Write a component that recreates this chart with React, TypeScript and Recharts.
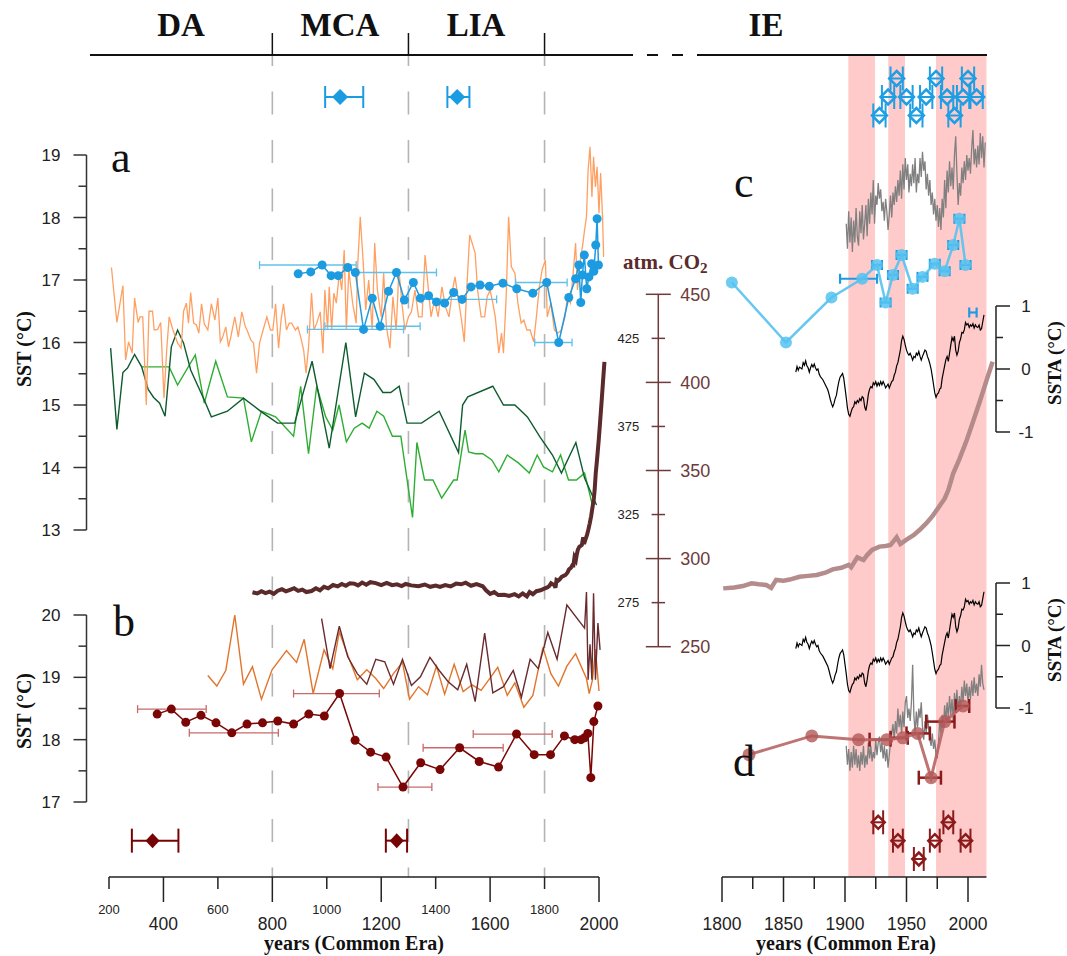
import React from 'react';
import { ComposedChart, Line, Scatter, XAxis, YAxis, ErrorBar, ReferenceLine, ReferenceArea } from 'recharts';

const W = 1067;
const H = 956;
const SANS = '"Liberation Sans", Arial, sans-serif';
const SERIF = '"Liberation Serif", "Times New Roman", serif';

// ---------------- data ----------------
const periodLabels = ['DA', 'MCA', 'LIA', 'IE'];
const periodBoundaries = [800, 1300, 1800];
const leftYearTicks = [200, 400, 600, 800, 1000, 1200, 1400, 1600, 1800, 2000];
const rightYearTicks = [1800, 1825, 1850, 1875, 1900, 1925, 1950, 1975, 2000];
const sstATicks = [13, 13.5, 14, 14.5, 15, 15.5, 16, 16.5, 17, 17.5, 18, 18.5, 19];
const sstBTicks = [17, 17.5, 18, 18.5, 19, 19.5, 20];
const co2Ticks = [250, 275, 300, 325, 350, 375, 400, 425, 450];
const sstaTicks = [-1, -0.5, 0, 0.5, 1];
const warmBands = [[1902.7, 1924.4], [1935.2, 1948.8], [1974, 2015]];

// panel a: light orange SST record
const orangeA = [
  [209, 17.2], [229, 16.32], [251, 16.91], [261, 15.72], [272, 16.01], [285, 15.83], [294, 16.71], [307, 16.32], [314, 16.41], [324, 16.41],
  [337, 15.0], [347, 16.5], [360, 16.5], [366, 16.2], [379, 16.21], [390, 16.32], [402, 15.11], [412, 15.88], [421, 16.41], [435, 16.2],
  [452, 15.99], [465, 15.91], [474, 16.5], [484, 16.63], [492, 16.31], [500, 16.8], [511, 16.31], [521, 16.28], [530, 16.15], [540, 16.62],
  [550, 16.3], [563, 16.2], [576, 16.62], [589, 16.36], [600, 16.71], [609, 16.01], [618, 16.09], [629, 16.25], [639, 15.93], [648, 16.1],
  [662, 16.41], [675, 16.09], [688, 16.49], [701, 16.25], [707, 16.2], [721, 16.04], [731, 15.99], [742, 15.51], [753, 15.99], [766, 16.2],
  [780, 16.41], [793, 16.2], [802, 16.2], [812, 16.62], [823, 15.91], [832, 16.36], [841, 16.62], [852, 16.2], [862, 16.31], [871, 16.31],
  [885, 16.2], [894, 16.25], [904, 16.09], [915, 15.88], [924, 15.51], [933, 15.93], [944, 16.79], [953, 16.2], [963, 16.31], [976, 16.49],
  [986, 15.83], [993, 16.84], [1003, 16.2], [1009, 16.89], [1018, 16.2], [1026, 16.79], [1035, 16.63], [1046, 17.11], [1055, 16.84], [1064, 17.48],
  [1072, 16.2], [1081, 17.16], [1095, 16.63], [1108, 16.31], [1114, 17.27], [1123, 18.01], [1134, 17.27], [1143, 16.52], [1154, 17.0], [1167, 16.2],
  [1176, 17.59], [1186, 16.84], [1200, 16.41], [1209, 17.11], [1219, 16.25], [1232, 15.91], [1243, 16.73], [1255, 16.2], [1265, 17.16], [1276, 16.63],
  [1287, 16.2], [1300, 16.41], [1311, 16.49], [1324, 16.84], [1337, 16.41], [1350, 16.41], [1361, 17.4], [1371, 16.95], [1383, 16.41], [1396, 16.68],
  [1409, 16.41], [1423, 16.89], [1436, 16.57], [1449, 16.41], [1462, 16.84], [1471, 17.05], [1482, 16.73], [1495, 16.36], [1505, 16.01], [1514, 16.84],
  [1525, 17.72], [1534, 17.59], [1545, 17.43], [1554, 16.84], [1567, 16.41], [1580, 16.41], [1589, 16.73], [1600, 16.84], [1610, 16.63], [1619, 16.41],
  [1632, 15.83], [1642, 16.15], [1649, 15.83], [1659, 16.73], [1668, 18.01], [1678, 17.21], [1691, 17.11], [1702, 16.63], [1714, 16.31], [1724, 16.36],
  [1735, 16.2], [1747, 16.2], [1760, 16.01], [1770, 16.41], [1781, 16.89], [1791, 17.16], [1803, 17.32], [1810, 16.41], [1823, 16.63], [1836, 16.2],
  [1849, 16.15], [1862, 16.2], [1875, 16.41], [1884, 16.73], [1895, 16.63], [1904, 17.05], [1914, 17.59], [1921, 16.84], [1930, 17.27], [1941, 17.59],
  [1947, 17.8], [1954, 18.01], [1960, 18.76], [1967, 19.13], [1974, 18.33], [1980, 18.97], [1987, 18.49], [1993, 18.81], [2000, 18.07], [2006, 18.71],
  [2013, 18.01], [2017, 17.37],
];

// panel a: dark green record
const darkGreenA = [
  [206, 15.91], [229, 14.61], [251, 15.52], [268, 15.59], [294, 15.81], [320, 15.61], [344, 15.25], [364, 15.12], [386, 15.03], [406, 14.82],
  [429, 15.93], [452, 16.2], [474, 15.99], [500, 15.56], [550, 15.08], [576, 14.81], [635, 14.9], [694, 15.11], [760, 14.89], [819, 14.71],
  [882, 14.71], [946, 15.7], [1009, 14.31], [1070, 16.0], [1106, 14.81], [1138, 15.51], [1173, 15.41], [1206, 15.2], [1235, 15.2], [1266, 15.3],
  [1295, 14.71], [1348, 14.71], [1413, 14.9], [1484, 14.24], [1499, 15.0], [1518, 15.13], [1610, 15.3], [1649, 15.0], [1691, 15.0], [1737, 14.81],
  [1783, 14.49], [1829, 14.2], [1862, 13.91], [1915, 14.4], [1947, 13.83], [1991, 13.4],
];

// panel a: light green record
const lightGreenA = [
  [320, 15.61], [421, 15.61], [452, 15.32], [517, 15.8], [550, 15.03], [592, 15.7], [635, 15.13], [694, 15.11], [723, 14.41], [760, 14.9],
  [812, 14.81], [878, 14.5], [904, 15.3], [933, 14.22], [963, 15.3], [996, 14.81], [1022, 14.6], [1045, 15.0], [1072, 14.41], [1101, 14.63],
  [1130, 14.71], [1156, 14.63], [1184, 14.9], [1209, 14.82], [1241, 14.5], [1272, 14.5], [1315, 13.2], [1331, 14.4], [1359, 13.8], [1390, 13.8],
  [1422, 13.51], [1466, 13.8], [1479, 13.8], [1495, 14.25], [1508, 14.6], [1521, 14.25], [1547, 14.22], [1573, 14.22], [1606, 14.12], [1632, 13.93],
  [1663, 14.2], [1705, 14.07], [1744, 13.91], [1773, 14.2], [1796, 14.01], [1829, 13.93], [1859, 14.2], [1888, 13.8], [1917, 13.8], [1947, 13.91],
  [1974, 13.43],
];

// panel a / c: blue coral-based SST (year, SST)
const blueSst = [
  [895, 17.1], [941, 17.13], [983, 17.24], [1016, 17.07], [1042, 17.07], [1077, 17.2], [1105, 17.12], [1135, 16.21], [1167, 16.71], [1196, 16.26],
  [1227, 16.82], [1256, 17.12], [1285, 16.68], [1318, 16.96], [1344, 16.71], [1374, 16.75], [1403, 16.65], [1433, 16.63], [1466, 16.8], [1497, 16.69],
  [1530, 16.89], [1563, 16.92], [1597, 16.9], [1647, 16.95], [1698, 16.86], [1757, 16.79], [1808, 16.96], [1852, 16.0], [1889, 16.72], [1914, 17.02],
  [1926, 17.24], [1933, 16.64], [1939, 17.08], [1946, 17.4], [1955, 16.86], [1963, 17.05], [1973, 17.26], [1981, 17.14], [1988, 17.56], [1993, 17.98],
  [1998, 17.24],
];
// age uncertainty (year, SST, minus, plus) shown on the long time axis
const blueAgeErrLong = [
  [983, 17.24, 230, 125], [1135, 16.21, 206, 147], [1196, 16.26, 203, 147], [1256, 17.12, 148, 147],
  [1497, 16.69, 148, 127], [1808, 16.96, 115, 75], [1852, 16.0, 88, 49],
];
// age uncertainty shown on the 1800-2015 axis
const blueAgeErrShort = [
  [1914, 17.02, 18, 12], [1926, 17.24, 4, 4], [1933, 16.64, 4, 4], [1939, 17.08, 4, 4], [1946, 17.4, 4, 4], [1955, 16.86, 4, 4],
  [1963, 17.05, 4, 4], [1973, 17.26, 4, 4], [1981, 17.14, 4, 4], [1988, 17.56, 4, 4], [1993, 17.98, 4, 4], [1998, 17.24, 4, 4],
  [2004, 16.48, 3, 3],
];

// panel b: orange and brown records
const orangeB = [
  [563, 19.03], [596, 18.86], [629, 19.11], [662, 20.0], [694, 18.89], [727, 19.17], [760, 18.65], [799, 19.12], [852, 19.43], [889, 19.24],
  [917, 19.61], [950, 18.74], [990, 19.44], [1022, 19.14], [1046, 19.73], [1075, 19.38], [1112, 18.96], [1147, 19.12], [1180, 18.98], [1209, 18.82],
  [1245, 19.06], [1278, 19.24], [1304, 18.65], [1337, 18.85], [1370, 18.72], [1403, 19.18], [1433, 18.73], [1468, 19.21], [1501, 18.77], [1534, 18.88],
  [1567, 18.79], [1597, 18.97], [1628, 19.16], [1663, 18.71], [1691, 18.91], [1724, 18.52], [1757, 18.71], [1794, 19.48], [1823, 19.06], [1851, 18.86],
  [1882, 19.18], [1914, 19.38], [1954, 18.98], [1964, 18.74], [1976, 18.96], [1987, 19.45], [2000, 18.78],
];
const brownB = [
  [981, 19.94], [1012, 19.14], [1046, 19.82], [1077, 19.33], [1112, 19.06], [1147, 18.89], [1180, 19.29], [1213, 19.25], [1245, 18.89], [1278, 19.29],
  [1311, 18.87], [1344, 19.01], [1379, 19.32], [1413, 19.11], [1446, 18.93], [1481, 18.8], [1514, 19.21], [1545, 18.61], [1580, 19.71], [1610, 18.75],
  [1649, 18.85], [1685, 19.11], [1715, 18.68], [1747, 19.29], [1777, 19.14], [1812, 19.72], [1846, 19.29], [1882, 20.16], [1947, 19.79], [1954, 20.37],
  [1960, 18.96], [1967, 19.53], [1974, 18.96], [1980, 20.35], [1987, 18.96], [1996, 19.87], [2004, 19.44],
];

// panel b / d: dark red SST
const redSst = [
  [377, 18.41], [429, 18.49], [482, 18.28], [538, 18.39], [593, 18.27], [651, 18.11], [707, 18.25], [764, 18.27], [820, 18.3], [878, 18.25],
  [934, 18.41], [991, 18.38], [1047, 18.74], [1104, 17.99], [1161, 17.8], [1218, 17.72], [1280, 17.24], [1345, 17.63], [1416, 17.52], [1488, 17.87],
  [1560, 17.65], [1631, 17.56], [1697, 18.09], [1762, 17.76], [1822, 17.76], [1873, 18.06], [1911, 18.0], [1934, 18.0], [1947, 18.03], [1959, 18.1],
  [1970, 17.39], [1981, 18.29], [1996, 18.54],
];
const redAgeErrLong = [
  [429, 18.49, 124, 128], [651, 18.11, 156, 171], [1047, 18.74, 169, 146], [1280, 17.24, 92, 106], [1488, 17.87, 134, 160], [1697, 18.09, 159, 131],
];
const redAgeErrShort = [
  [1934, 18.0, 14, 3], [1947, 18.03, 10, 4], [1959, 18.1, 9, 10], [1970, 17.39, 10, 8], [1981, 18.29, 15, 8], [1996, 18.54, 6, 5],
];

// atmospheric CO2 (ppm)
const co2Ppm = [
  [727, 280.9], [745, 280.2], [760, 281.5], [775, 280.4], [790, 281.2], [805, 280.0], [820, 281.8], [835, 282.6], [850, 281.4], [865, 282.3],
  [880, 283.2], [895, 281.7], [910, 282.4], [925, 281.0], [944, 281.6], [960, 283.2], [975, 282.0], [990, 284.0], [1005, 283.1], [1023, 285.0],
  [1040, 284.2], [1055, 285.6], [1070, 284.6], [1085, 286.0], [1101, 285.8], [1115, 284.8], [1130, 286.4], [1145, 285.2], [1160, 286.6], [1180, 286.1],
  [1200, 285.0], [1220, 286.2], [1240, 284.9], [1258, 285.4], [1275, 284.4], [1290, 285.6], [1310, 284.8], [1337, 284.3], [1360, 285.3], [1380, 284.0],
  [1400, 284.7], [1416, 283.9], [1435, 285.0], [1455, 284.2], [1475, 285.8], [1494, 285.4], [1510, 286.3], [1530, 284.6], [1550, 285.5], [1573, 284.3],
  [1585, 282.0], [1600, 280.0], [1615, 281.0], [1630, 279.3], [1652, 279.5], [1670, 278.8], [1690, 279.8], [1705, 278.5], [1720, 280.2], [1735, 278.6],
  [1745, 281.0], [1757, 279.8], [1770, 281.5], [1785, 282.0], [1801, 283.1], [1810, 283.6], [1817, 284.4], [1824, 286.0], [1830, 285.4], [1836, 285.0],
  [1840, 283.4], [1844, 287.9], [1850, 287.5], [1855, 288.1], [1863, 289.7], [1870, 290.2], [1877, 290.7], [1884, 292.0], [1890, 293.9], [1897, 294.8],
  [1903, 296.4], [1905, 295.1], [1910, 300.7], [1915, 299.2], [1918, 302.0], [1922, 304.9], [1928, 306.8], [1933, 307.2], [1937, 307.7], [1942, 312.1],
  [1945, 308.3], [1950, 310.8], [1956, 313.4], [1961, 316.5], [1966, 320.0], [1971, 324.0], [1977, 330.0], [1981, 334.0], [1984, 338.9], [1988, 348.4],
  [1993, 356.5], [1999, 367.3], [2004, 377.5], [2010, 390.0], [2015, 401.0], [2020, 411.7],
];

// instrumental SST anomaly (°C), shown in panels c and d
const sstAnomaly = [
  [1860, -0.05], [1861, 0.04], [1862, -0.02], [1863, 0.03], [1865, 0.0], [1866, 0.1], [1867, 0.06], [1868, 0.13], [1869, 0.05], [1870, 0.02],
  [1871, -0.05], [1872, 0.02], [1873, 0.07], [1874, 0.03], [1875, 0.08], [1876, 0.02], [1877, -0.02], [1878, 0.0], [1879, -0.08], [1880, -0.12],
  [1882, -0.17], [1884, -0.25], [1886, -0.33], [1887, -0.4], [1888, -0.48], [1889, -0.55], [1890, -0.6], [1891, -0.55], [1892, -0.47], [1893, -0.42],
  [1894, -0.3], [1895, -0.2], [1896, -0.13], [1897, -0.1], [1898, -0.07], [1899, -0.15], [1900, -0.3], [1901, -0.45], [1902, -0.62], [1903, -0.72],
  [1904, -0.75], [1905, -0.68], [1906, -0.62], [1907, -0.6], [1908, -0.52], [1909, -0.55], [1910, -0.5], [1911, -0.53], [1912, -0.47], [1913, -0.5],
  [1914, -0.44], [1915, -0.46], [1916, -0.6], [1917, -0.66], [1918, -0.55], [1919, -0.4], [1920, -0.32], [1921, -0.28], [1922, -0.3], [1923, -0.22],
  [1924, -0.25], [1925, -0.2], [1926, -0.27], [1927, -0.22], [1928, -0.26], [1929, -0.2], [1930, -0.25], [1931, -0.2], [1932, -0.24], [1933, -0.3],
  [1934, -0.27], [1935, -0.24], [1936, -0.3], [1937, -0.25], [1938, -0.2], [1939, -0.18], [1940, -0.1], [1941, -0.05], [1942, 0.05], [1943, 0.1],
  [1944, 0.2], [1945, 0.3], [1946, 0.45], [1947, 0.52], [1948, 0.47], [1949, 0.38], [1950, 0.3], [1951, 0.25], [1952, 0.22], [1953, 0.25],
  [1954, 0.2], [1955, 0.14], [1956, 0.2], [1957, 0.18], [1958, 0.25], [1959, 0.22], [1960, 0.28], [1961, 0.2], [1962, 0.14], [1963, 0.2],
  [1964, 0.25], [1965, 0.3], [1966, 0.28], [1967, 0.2], [1968, 0.15], [1969, 0.08], [1970, 0.0], [1971, -0.12], [1972, -0.25], [1973, -0.38],
  [1974, -0.45], [1975, -0.4], [1976, -0.38], [1977, -0.32], [1978, -0.3], [1979, -0.15], [1980, -0.05], [1981, 0.05], [1982, 0.15], [1983, 0.2],
  [1984, 0.12], [1985, 0.25], [1986, 0.38], [1987, 0.5], [1988, 0.45], [1989, 0.52], [1990, 0.3], [1991, 0.22], [1992, 0.28], [1993, 0.42],
  [1994, 0.48], [1995, 0.58], [1996, 0.57], [1997, 0.62], [1998, 0.74], [1999, 0.7], [2000, 0.72], [2001, 0.66], [2002, 0.7], [2003, 0.68],
  [2004, 0.72], [2005, 0.65], [2006, 0.7], [2007, 0.67], [2008, 0.66], [2009, 0.7], [2010, 0.62], [2011, 0.64], [2012, 0.75], [2013, 0.86],
];

// instrumental SST (gray), panel c (scale of panel a)
const graySstC = [
  [1901, 17.9], [1902, 17.5], [1903, 18.1], [1904, 17.6], [1905, 18.0], [1906, 17.45], [1907, 17.95], [1908, 17.6], [1909, 18.15], [1910, 17.7],
  [1911, 17.55], [1912, 18.1], [1913, 17.75], [1914, 18.2], [1915, 17.65], [1916, 17.9], [1917, 18.2], [1918, 17.7], [1919, 18.3], [1920, 17.9],
  [1921, 18.4], [1922, 18.05], [1923, 18.6], [1924, 17.9], [1925, 18.35], [1926, 18.2], [1927, 18.55], [1928, 18.3], [1929, 18.45], [1930, 18.1],
  [1931, 18.25], [1932, 17.95], [1933, 18.3], [1934, 18.1], [1935, 17.8], [1936, 18.05], [1937, 18.35], [1938, 18.0], [1939, 18.4], [1940, 18.2],
  [1941, 18.5], [1942, 18.25], [1943, 18.6], [1944, 18.35], [1945, 18.75], [1946, 18.3], [1947, 18.85], [1948, 18.45], [1949, 18.95], [1950, 18.6],
  [1951, 18.85], [1952, 18.4], [1953, 18.7], [1954, 18.5], [1955, 18.85], [1956, 18.55], [1957, 18.95], [1958, 18.4], [1959, 18.7], [1960, 18.55],
  [1961, 18.95], [1962, 18.65], [1963, 19.05], [1964, 18.75], [1965, 18.9], [1966, 18.45], [1967, 18.7], [1968, 18.35], [1969, 18.6], [1970, 18.2],
  [1971, 18.4], [1972, 18.05], [1973, 18.3], [1974, 17.95], [1975, 18.2], [1976, 17.85], [1977, 18.15], [1978, 17.8], [1979, 18.3], [1980, 18.0],
  [1981, 18.6], [1982, 18.15], [1983, 18.75], [1984, 18.4], [1985, 18.9], [1986, 18.5], [1987, 18.8], [1988, 18.45], [1989, 19.0], [1990, 19.3],
  [1991, 18.7], [1992, 18.2], [1993, 18.55], [1994, 18.35], [1995, 18.8], [1996, 18.55], [1997, 18.9], [1998, 18.6], [1999, 19.0], [2000, 18.75],
  [2001, 18.95], [2002, 18.7], [2003, 19.1], [2004, 19.4], [2005, 18.85], [2006, 19.1], [2007, 18.8], [2008, 19.15], [2009, 18.85], [2010, 19.35],
  [2011, 18.95], [2012, 19.3], [2013, 18.8], [2014, 19.2],
];

// instrumental SST (gray), panel d (scale of panel b)
const graySstD = [
  [1901, 17.9], [1902, 17.6], [1903, 17.85], [1904, 17.5], [1905, 17.8], [1906, 17.55], [1907, 17.9], [1908, 17.6], [1909, 17.85], [1910, 17.55],
  [1911, 17.75], [1912, 17.5], [1913, 17.8], [1914, 17.6], [1915, 17.9], [1916, 17.55], [1917, 17.75], [1918, 17.6], [1919, 17.95], [1920, 17.7],
  [1921, 17.9], [1922, 17.65], [1923, 17.8], [1924, 17.7], [1925, 18.0], [1926, 17.75], [1927, 17.95], [1928, 18.05], [1929, 17.8], [1930, 17.95],
  [1931, 17.7], [1932, 17.9], [1933, 17.65], [1934, 17.85], [1935, 17.55], [1936, 17.75], [1937, 17.95], [1938, 18.1], [1939, 18.25], [1940, 18.0],
  [1941, 18.3], [1942, 18.1], [1943, 18.5], [1944, 18.2], [1945, 18.4], [1946, 18.1], [1947, 18.45], [1948, 18.2], [1949, 18.6], [1950, 18.7],
  [1951, 18.35], [1952, 18.5], [1953, 18.3], [1954, 18.6], [1955, 19.2], [1956, 18.4], [1957, 18.1], [1958, 18.45], [1959, 18.2], [1960, 18.5],
  [1961, 18.35], [1962, 18.6], [1963, 18.2], [1964, 18.0], [1965, 18.3], [1966, 18.1], [1967, 18.4], [1968, 18.2], [1969, 18.0], [1970, 17.9],
  [1971, 18.1], [1972, 17.85], [1973, 18.0], [1974, 17.75], [1975, 17.7], [1976, 17.95], [1977, 18.3], [1978, 18.1], [1979, 18.4], [1980, 18.2],
  [1981, 18.55], [1982, 18.3], [1983, 18.6], [1984, 18.35], [1985, 18.7], [1986, 18.4], [1987, 18.65], [1988, 18.3], [1989, 18.75], [1990, 18.5],
  [1991, 18.8], [1992, 18.45], [1993, 18.7], [1994, 18.5], [1995, 18.85], [1996, 18.6], [1997, 18.95], [1998, 18.7], [1999, 18.9], [2000, 18.6],
  [2001, 18.85], [2002, 18.65], [2003, 18.95], [2004, 18.7], [2005, 19.0], [2006, 18.75], [2007, 18.9], [2008, 18.7], [2009, 19.05], [2010, 18.85],
  [2011, 19.2], [2012, 18.9], [2013, 18.8],
];

// dated events: (year, stacking row, minus, plus)
const blueEventsLong = [[1049, 2, 55, 85], [1479, 2, 36, 45]];
const redEventsLong = [[360, 1, 76, 95], [1257, 1, 40, 38]];
const blueEventsShort = [
  [1928, 1, 5, 5], [1935, 2, 5, 5], [1942, 3, 5, 5], [1950, 2, 5, 5], [1958, 1, 5, 5], [1966, 2, 5, 5],
  [1974, 3, 5, 5], [1983, 2, 5, 5], [1989, 1, 5, 5], [1996, 2, 5, 5], [2000, 3, 5, 5], [2007, 2, 5, 5],
];
const redEventsShort = [[1927, 2, 4, 4], [1943, 1, 4, 4], [1960, 0, 4, 4], [1973, 1, 4, 4], [1984, 2, 4, 4], [1998, 1, 4, 4]];

// ---------------- layout helpers ----------------
const TOP = 55;
const BOT = 877;
const lin = (p1: number, v1: number, p2: number, v2: number) => (p: number) => v1 + ((p - p1) * (v2 - v1)) / (p2 - p1);
const xd = (f: (p: number) => number) => [f(0), f(W)];
const yd = (f: (p: number) => number) => [f(H), f(0)];
const fxL = lin(109, 200, 599, 2000);
const fxR = lin(722, 1800, 968, 2000);
const fSstA = lin(155, 19, 530, 13);
const fSstB = lin(615, 20, 802, 17);
const fCo2 = lin(294.3, 450, 646.7, 250);
const fSstaTop = lin(306, 1, 432, -1);
const fSstaBot = lin(583, 1, 708, -1);
const fRowTop = lin(115.5, 1, 78.5, 3);
const fRowBot = lin(859, 0, 822.3, 2);
const fFrame = (p: number) => (BOT - p) / (BOT - TOP);
const topBarPx = [[90, 633], [647, 658], [672, 683], [697, 987]];

const pts = (a: number[][]) => a.map(([x, y]) => ({ x, y }));
const errPts = (a: number[][]) => a.map(([x, y, lo, hi]) => ({ x, y, ex: [lo, hi] }));
const late = (a: number[][]) => a.filter(([x]) => x >= 1800);

const layer: React.CSSProperties = { position: 'absolute', left: 0, top: 0, width: W, height: H };

// ---------------- shapes ----------------
const dot = (r: number, fill: string, op = 1) => (p: any) => <circle cx={p.cx} cy={p.cy} r={r} fill={fill} fillOpacity={op} />;
const noShape = () => <g />;
const diamondPath = (cx: number, cy: number, w: number, h: number) => `M${cx},${cy - h}L${cx + w},${cy}L${cx},${cy + h}L${cx - w},${cy}Z`;
const solidDiamond = (w: number, h: number, c: string) => (p: any) => <path d={diamondPath(p.cx, p.cy, w, h)} fill={c} />;
const openDiamond = (w: number, h: number, c: string) => (p: any) => (
  <path d={diamondPath(p.cx, p.cy, w, h)} fill="none" stroke={c} strokeWidth={2.5} />
);

// ---------------- ticks ----------------
const leftXTick = (p: any) => {
  const v = p.payload.value;
  const major = v % 400 === 0;
  return (
    <g>
      <line x1={p.x} y1={p.y} x2={p.x} y2={p.y + (major ? 25 : 12)} stroke="#222" strokeWidth={1.5} />
      <text x={p.x} y={p.y + (major ? 53 : 37)} textAnchor="middle" fontSize={major ? 17.5 : 13} fontFamily={SANS} fill="#222">{v}</text>
    </g>
  );
};
const rightXTick = (p: any) => {
  const v = p.payload.value;
  const major = v % 50 === 0;
  return (
    <g>
      <line x1={p.x} y1={p.y} x2={p.x} y2={p.y + (major ? 25 : 12)} stroke="#222" strokeWidth={1.5} />
      {major && <text x={p.x} y={p.y + 53} textAnchor="middle" fontSize={17.5} fontFamily={SANS} fill="#222">{v}</text>}
    </g>
  );
};
const sstTick = (p: any) => {
  const v = p.payload.value;
  const major = Number.isInteger(v);
  return (
    <g>
      <line x1={p.x - (major ? 13 : 8)} y1={p.y} x2={p.x} y2={p.y} stroke="#333" strokeWidth={1.5} />
      {major && <text x={p.x - 26} y={p.y + 6} textAnchor="end" fontSize={17} fontFamily={SANS} fill="#222">{v}</text>}
    </g>
  );
};
const sstaTick = (p: any) => {
  const v = p.payload.value;
  const major = Number.isInteger(v);
  return (
    <g>
      <line x1={p.x} y1={p.y} x2={p.x + (major ? 14 : 7)} y2={p.y} stroke="#222" strokeWidth={1.5} />
      {major && <text x={p.x + 30} y={p.y + 6} textAnchor="middle" fontSize={17} fontFamily={SANS} fill="#222">{v}</text>}
    </g>
  );
};
const CO2C = '#6E3A3A';
const co2Tick = (p: any) => {
  const v = p.payload.value;
  const major = v % 50 === 0;
  const h = major ? 12.5 : 6.7;
  return (
    <g>
      <line x1={p.x - h} y1={p.y} x2={p.x + h} y2={p.y} stroke={CO2C} strokeWidth={1.5} />
      {major ? (
        <text x={p.x + 22} y={p.y + 6.5} textAnchor="start" fontSize={18} fontFamily={SANS} fill={CO2C}>{v}</text>
      ) : (
        <text x={p.x - 19} y={p.y + 4.5} textAnchor="end" fontSize={13} fontFamily={SANS} fill="#222">{v}</text>
      )}
    </g>
  );
};

// ---------------- components ----------------
function SideAxis(props: { axisX: number; top: number; bottom: number; domain: number[]; ticks: number[]; side: 'left' | 'right'; tick: any; color: string }) {
  const { axisX, top, bottom, domain, ticks, side, tick, color } = props;
  const AW = 60;
  const margin = side === 'left'
    ? { top, bottom: H - bottom, left: axisX - AW, right: W - axisX - 2 }
    : { top, bottom: H - bottom, left: axisX - 2, right: W - axisX - AW };
  return (
    <div style={layer}>
      <ComposedChart width={W} height={H} margin={margin}>
        <XAxis type="number" domain={[0, 1]} allowDataOverflow hide />
        <YAxis type="number" orientation={side} width={AW} domain={domain} allowDataOverflow ticks={ticks} interval={0}
          tickSize={0} tickMargin={0} tickLine={false} axisLine={{ stroke: color, strokeWidth: 1.5 }} tick={tick} />
      </ComposedChart>
    </div>
  );
}

function LeftFrame() {
  return (
    <div style={layer}>
      <ComposedChart width={W} height={H} margin={{ top: TOP, bottom: H - BOT - 60, left: 109, right: W - 599 }}>
        <XAxis type="number" dataKey="x" domain={[200, 2000]} allowDataOverflow ticks={leftYearTicks} interval={0} height={60}
          tickSize={0} tickMargin={0} tickLine={false} axisLine={{ stroke: '#222', strokeWidth: 1.5 }} tick={leftXTick} />
        <YAxis type="number" dataKey="y" domain={[0, 1]} allowDataOverflow hide />
        {periodBoundaries.map((b) => (
          <ReferenceLine key={'g' + b} segment={[{ x: b, y: 1 }, { x: b, y: 0 }]} stroke="#b4b4b4" strokeWidth={1.6}
            strokeDasharray="23 25.5" strokeDashoffset={12} ifOverflow="visible" />
        ))}
        {periodBoundaries.map((b) => (
          <ReferenceLine key={'t' + b} segment={[{ x: b, y: 1 }, { x: b, y: fFrame(33) }]} stroke="#111" strokeWidth={1.5} ifOverflow="visible" />
        ))}
        {topBarPx.map(([a, b]) => (
          <ReferenceLine key={'bar' + a} segment={[{ x: fxL(a), y: 1 }, { x: fxL(b), y: 1 }]} stroke="#111" strokeWidth={2} ifOverflow="visible" />
        ))}
      </ComposedChart>
    </div>
  );
}

function RightFrame() {
  return (
    <div style={layer}>
      <ComposedChart width={W} height={H} margin={{ top: TOP, bottom: H - BOT - 60, left: 722, right: W - 986.45 }}>
        <XAxis type="number" dataKey="x" domain={[1800, 2015]} allowDataOverflow ticks={rightYearTicks} interval={0} height={60}
          tickSize={0} tickMargin={0} tickLine={false} axisLine={{ stroke: '#222', strokeWidth: 1.5 }} tick={rightXTick} />
        <YAxis type="number" dataKey="y" domain={[0, 1]} allowDataOverflow hide />
        {warmBands.map(([a, b]) => (
          <ReferenceArea key={'w' + a} x1={a} x2={b} fill="#FFCACA" fillOpacity={1} stroke="none" ifOverflow="visible" />
        ))}
      </ComposedChart>
    </div>
  );
}

const hiddenY = (id: string, f: (p: number) => number) => (
  <YAxis key={id} yAxisId={id} type="number" dataKey="y" domain={yd(f)} allowDataOverflow hide />
);
const noAnim = { isAnimationActive: false, dot: false, activeDot: false } as any;

function LeftData() {
  return (
    <div style={layer}>
      <ComposedChart width={W} height={H} margin={{ top: 0, right: 0, bottom: 0, left: 0 }}>
        <XAxis type="number" dataKey="x" domain={xd(fxL)} allowDataOverflow hide />
        {hiddenY('a', fSstA)}
        {hiddenY('b', fSstB)}
        {hiddenY('co2', fCo2)}
        {hiddenY('rt', fRowTop)}
        {hiddenY('rb', fRowBot)}
        <Line yAxisId="a" data={pts(lightGreenA)} dataKey="y" stroke="#2EAD32" strokeWidth={1.4} {...noAnim} />
        <Line yAxisId="a" data={pts(darkGreenA)} dataKey="y" stroke="#0E5B2E" strokeWidth={1.4} {...noAnim} />
        <Line yAxisId="a" data={pts(orangeA)} dataKey="y" stroke="#FFA062" strokeWidth={1.3} {...noAnim} />
        <Line yAxisId="co2" data={pts(co2Ppm)} dataKey="y" stroke="#5B2A2A" strokeWidth={4} {...noAnim} />
        <Line yAxisId="b" data={pts(orangeB)} dataKey="y" stroke="#E2742B" strokeWidth={1.4} {...noAnim} />
        <Line yAxisId="b" data={pts(brownB)} dataKey="y" stroke="#6A2B2F" strokeWidth={1.4} {...noAnim} />
        <Scatter yAxisId="a" data={errPts(blueAgeErrLong)} dataKey="y" shape={noShape} isAnimationActive={false}>
          <ErrorBar dataKey="ex" direction="x" width={4} stroke="#62C0EC" strokeWidth={1.3} isAnimationActive={false} />
        </Scatter>
        <Scatter yAxisId="b" data={errPts(redAgeErrLong)} dataKey="y" shape={noShape} isAnimationActive={false}>
          <ErrorBar dataKey="ex" direction="x" width={4} stroke="#C86A6A" strokeWidth={1.3} isAnimationActive={false} />
        </Scatter>
        <Scatter yAxisId="a" data={pts(blueSst)} dataKey="y" shape={dot(4.5, '#1C9BE0')} line={{ stroke: '#1C9BE0', strokeWidth: 1.5 }}
          lineType="joint" isAnimationActive={false} />
        <Scatter yAxisId="b" data={pts(redSst)} dataKey="y" shape={dot(4.5, '#7A0606')} line={{ stroke: '#7A0606', strokeWidth: 1.5 }}
          lineType="joint" isAnimationActive={false} />
        <Scatter yAxisId="rt" data={errPts(blueEventsLong)} dataKey="y" shape={solidDiamond(8, 8, '#1A9CE2')} isAnimationActive={false}>
          <ErrorBar dataKey="ex" direction="x" width={11} stroke="#1A9CE2" strokeWidth={2} isAnimationActive={false} />
        </Scatter>
        <Scatter yAxisId="rb" data={errPts(redEventsLong)} dataKey="y" shape={solidDiamond(7, 7.5, '#760404')} isAnimationActive={false}>
          <ErrorBar dataKey="ex" direction="x" width={12} stroke="#760404" strokeWidth={2} isAnimationActive={false} />
        </Scatter>
      </ComposedChart>
    </div>
  );
}

function RightData() {
  return (
    <div style={layer}>
      <ComposedChart width={W} height={H} margin={{ top: 0, right: 0, bottom: 0, left: 0 }}>
        <XAxis type="number" dataKey="x" domain={xd(fxR)} allowDataOverflow hide />
        {hiddenY('a', fSstA)}
        {hiddenY('b', fSstB)}
        {hiddenY('co2', fCo2)}
        {hiddenY('st', fSstaTop)}
        {hiddenY('sb', fSstaBot)}
        {hiddenY('rt', fRowTop)}
        {hiddenY('rb', fRowBot)}
        <Line yAxisId="a" data={pts(graySstC)} dataKey="y" stroke="#808080" strokeWidth={1.3} {...noAnim} />
        <Line yAxisId="st" data={pts(sstAnomaly)} dataKey="y" stroke="#000" strokeWidth={1.2} {...noAnim} />
        <Line yAxisId="co2" data={pts(late(co2Ppm))} dataKey="y" stroke="#B08686" strokeWidth={4.5} strokeOpacity={0.95} {...noAnim} />
        <Line yAxisId="sb" data={pts(sstAnomaly)} dataKey="y" stroke="#000" strokeWidth={1.2} {...noAnim} />
        <Line yAxisId="b" data={pts(graySstD)} dataKey="y" stroke="#808080" strokeWidth={1.3} {...noAnim} />
        <Scatter yAxisId="a" data={pts(late(blueSst))} dataKey="y" shape={dot(6, '#55C2F0', 0.85)}
          line={{ stroke: '#55C2F0', strokeWidth: 2.5, strokeOpacity: 0.9 }} lineType="joint" isAnimationActive={false} />
        <Scatter yAxisId="a" data={errPts(blueAgeErrShort)} dataKey="y" shape={noShape} isAnimationActive={false}>
          <ErrorBar dataKey="ex" direction="x" width={5} stroke="#1E9BE0" strokeWidth={2.2} isAnimationActive={false} />
        </Scatter>
        <Scatter yAxisId="b" data={pts(late(redSst))} dataKey="y" shape={dot(6.5, '#B35858', 0.8)}
          line={{ stroke: '#B86565', strokeWidth: 3, strokeOpacity: 0.9 }} lineType="joint" isAnimationActive={false} />
        <Scatter yAxisId="b" data={errPts(redAgeErrShort)} dataKey="y" shape={noShape} isAnimationActive={false}>
          <ErrorBar dataKey="ex" direction="x" width={7} stroke="#8B1A1A" strokeWidth={2.5} isAnimationActive={false} />
        </Scatter>
        <Scatter yAxisId="rt" data={errPts(blueEventsShort)} dataKey="y" shape={openDiamond(7.5, 7.5, '#1E9FE3')} isAnimationActive={false}>
          <ErrorBar dataKey="ex" direction="x" width={12} stroke="#1E9FE3" strokeWidth={2} isAnimationActive={false} />
        </Scatter>
        <Scatter yAxisId="rb" data={errPts(redEventsShort)} dataKey="y" shape={openDiamond(6.5, 6.5, '#8B1A1A')} isAnimationActive={false}>
          <ErrorBar dataKey="ex" direction="x" width={12} stroke="#8B1A1A" strokeWidth={2} isAnimationActive={false} />
        </Scatter>
      </ComposedChart>
    </div>
  );
}

function Txt(p: { x: number; y: number; size: number; anchor?: 'start' | 'middle'; bold?: boolean; serif?: boolean; color?: string; children: React.ReactNode }) {
  return (
    <div style={{
      position: 'absolute', left: p.x, top: p.y - 0.84 * p.size, fontSize: p.size, lineHeight: 1,
      fontFamily: p.serif ? SERIF : SANS, fontWeight: p.bold ? 700 : 400, color: p.color || '#111', whiteSpace: 'nowrap',
      transform: p.anchor === 'middle' ? 'translateX(-50%)' : undefined,
    }}>{p.children}</div>
  );
}
function VTxt(p: { cx: number; cy: number; size: number; children: React.ReactNode }) {
  return (
    <div style={{
      position: 'absolute', left: p.cx, top: p.cy, transform: 'translate(-50%, -50%) rotate(-90deg)', fontSize: p.size,
      fontFamily: SERIF, fontWeight: 700, whiteSpace: 'nowrap', lineHeight: 1, color: '#111',
    }}>{p.children}</div>
  );
}

const periodLabelX = [181, 340, 476, 766];

export default function App() {
  return (
    <div style={{ position: 'absolute', left: 0, top: 0, width: W, height: H, background: '#fff', overflow: 'hidden' }}>
      <RightFrame />
      <LeftFrame />
      <SideAxis axisX={86.5} top={155} bottom={530} domain={[13, 19]} ticks={sstATicks} side="left" tick={sstTick} color="#333" />
      <SideAxis axisX={86.5} top={615} bottom={802} domain={[17, 20]} ticks={sstBTicks} side="left" tick={sstTick} color="#333" />
      <SideAxis axisX={658.3} top={294.3} bottom={646.7} domain={[250, 450]} ticks={co2Ticks} side="left" tick={co2Tick} color={CO2C} />
      <SideAxis axisX={996} top={306} bottom={432} domain={[-1, 1]} ticks={sstaTicks} side="right" tick={sstaTick} color="#222" />
      <SideAxis axisX={996} top={583} bottom={708} domain={[-1, 1]} ticks={sstaTicks} side="right" tick={sstaTick} color="#222" />
      <LeftData />
      <RightData />
      {periodLabels.map((t, i) => (
        <Txt key={t} x={periodLabelX[i]} y={37} size={33} anchor="middle" bold serif>{t}</Txt>
      ))}
      <Txt x={111} y={173} size={44} serif>a</Txt>
      <Txt x={113} y={637} size={44} serif>b</Txt>
      <Txt x={734} y={198} size={44} serif>c</Txt>
      <Txt x={733} y={777} size={44} serif>d</Txt>
      <Txt x={623} y={270} size={21} bold serif color="#5B2A2A">
        atm. CO<span style={{ fontSize: '0.72em', verticalAlign: '-0.28em' }}>2</span>
      </Txt>
      <VTxt cx={24} cy={349} size={20}>SST (°C)</VTxt>
      <VTxt cx={24} cy={711} size={20}>SST (°C)</VTxt>
      <VTxt cx={1054} cy={363} size={19}>SSTA (°C)</VTxt>
      <VTxt cx={1054} cy={640} size={19}>SSTA (°C)</VTxt>
      <Txt x={354} y={950} size={20} anchor="middle" bold serif>years (Common Era)</Txt>
      <Txt x={846} y={950} size={20} anchor="middle" bold serif>years (Common Era)</Txt>
    </div>
  );
}
